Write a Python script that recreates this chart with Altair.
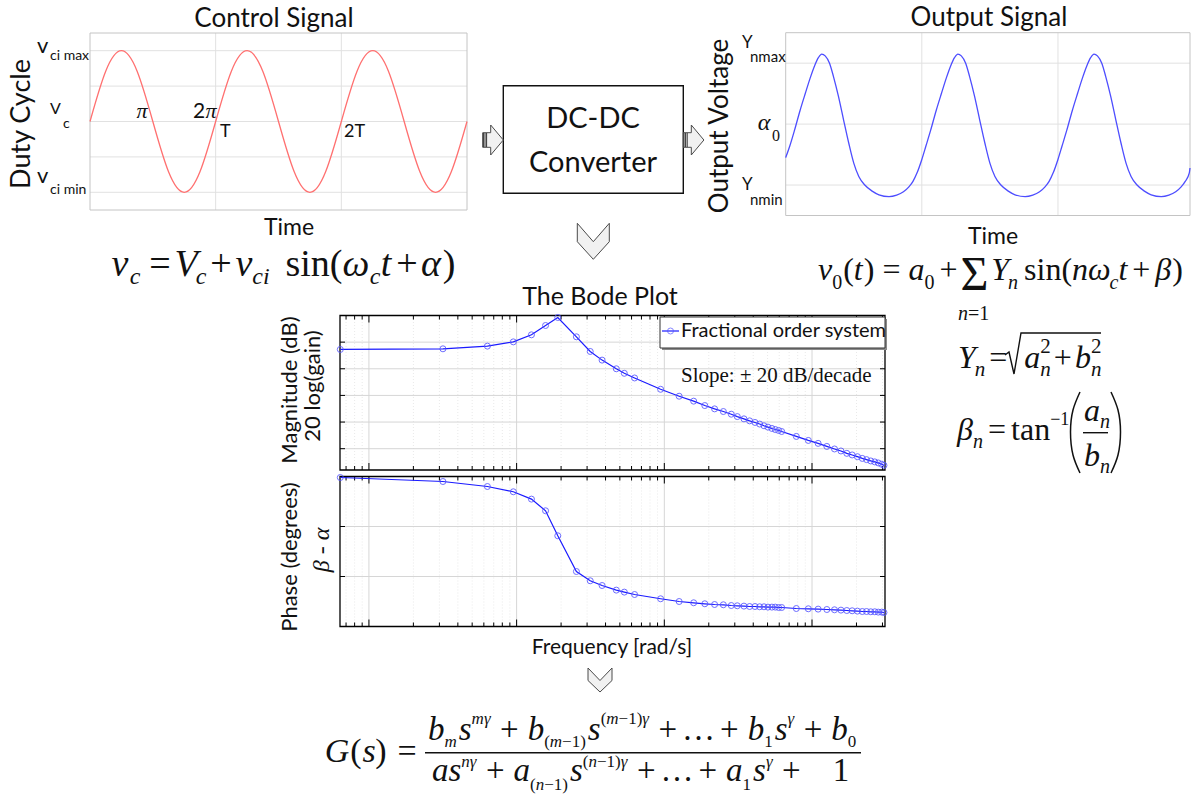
import altair as alt
import pandas as pd

W, H = 1191, 799
SANS = "Lato"
SERIF = "Liberation Serif"
INK = "#111111"

# ---------------- data ----------------
# Control signal: duty-cycle level at each eighth of a period
ctl_phase = [0.0, 0.125, 0.25, 0.375, 0.5, 0.625, 0.75, 0.875]
ctl_level = [0.0, 0.71, 1.0, 0.71, 0.0, -0.71, -1.0, -0.71]
ctl_cycles = [0, 1, 2]
ctl_last = [3.0, 0.0]

# Output signal: level around each peak (offset from the peak, in periods)
out_offset = [-0.45, -0.40, -0.36, -0.33, -0.30, -0.265, -0.235, -0.20, -0.16, -0.12, -0.086, -0.054, -0.025,
              0.0, 0.025, 0.057, 0.086, 0.123, 0.160, 0.198, 0.235, 0.272, 0.316, 0.370, 0.420, 0.494]
out_level = [-1.165, -1.11, -1.03, -0.94, -0.80, -0.58, -0.36, -0.10, 0.22, 0.51, 0.75, 0.95, 1.09,
             1.15, 1.12, 1.0, 0.78, 0.45, 0.07, -0.31, -0.64, -0.86, -1.0, -1.10, -1.16, -1.19]
out_peaks = [0.265, 1.265, 2.265, 3.265]
out_first = [0.0, -0.55]
out_last = [2.97, -0.72]

# Bode plot of the fractional order system
bode_freq = [0.064, 0.317, 0.634, 0.95, 1.26, 1.57, 1.90, 2.54, 3.15, 3.79, 4.73, 5.36, 6.29, 9.44,
             12.6, 15.8, 18.8, 21.9, 25.1, 28.4, 31.2, 34.6, 37.8, 41.1, 44.2, 47.3, 50.3, 53.5, 56.4,
             59.4, 62.3, 78.3, 94.4, 110, 126, 142, 157, 172, 187, 203, 219, 234, 250, 266, 281, 296, 307]
bode_mag = [-5.5, -5.0, -3.0, 0.2, 5.5, 12.5, 18.5, 4.0, -7.0, -13.5, -20.0, -23.4, -26.9, -35.4,
            -40.6, -44.3, -47.6, -50.1, -52.1, -54.1, -55.9, -57.6, -59.1, -60.3, -61.5, -62.8, -63.8,
            -64.8, -65.6, -66.3, -67.1, -70.8, -73.8, -76.0, -78.3, -80.2, -81.7, -83.5, -84.7, -86.0,
            -87.3, -88.2, -89.2, -89.9, -90.7, -91.7, -92.5]
bode_phase = [-1.8, -9.0, -18.0, -27.5, -40.7, -61.7, -106.7, -171.0, -187.7, -196.2, -204.5, -208.1,
              -212.4, -220.1, -225.0, -227.3, -229.1, -230.4, -230.9, -232.2, -232.7, -233.3, -234.0,
              -234.0, -234.5, -234.5, -235.1, -235.1, -235.1, -235.8, -235.8, -237.6, -238.1, -238.7,
              -239.4, -239.9, -240.5, -241.2, -241.7, -242.3, -243.0, -243.0, -243.5, -243.5, -244.1,
              -244.1, -244.8]

# ---------------- helpers ----------------
def scale(domain, rng, kind="linear"):
    return alt.Scale(type=kind, domain=domain, range=rng, nice=False, zero=False)


def frame(xd, yd, xs, ys, color, width):
    df = pd.DataFrame({"x0": [xd[0]], "x1": [xd[1]], "y0": [yd[0]], "y1": [yd[1]]})
    return alt.Chart(df).mark_rect(stroke=color, strokeWidth=width, fillOpacity=0).encode(
        x=alt.X("x0:Q", scale=xs, axis=None), x2="x1:Q",
        y=alt.Y("y0:Q", scale=ys, axis=None), y2="y1:Q")


def hgrid(values, xd, xs, ys, color, dash=None, width=1):
    df = pd.DataFrame({"v": values, "a": xd[0], "b": xd[1]})
    kw = dict(strokeDash=dash) if dash else {}
    return alt.Chart(df).mark_rule(color=color, strokeWidth=width, **kw).encode(
        y=alt.Y("v:Q", scale=ys, axis=None),
        x=alt.X("a:Q", scale=xs, axis=None), x2="b:Q")


def vgrid(values, yd, xs, ys, color, dash=None, width=1):
    df = pd.DataFrame({"v": values, "a": yd[0], "b": yd[1]})
    kw = dict(strokeDash=dash) if dash else {}
    return alt.Chart(df).mark_rule(color=color, strokeWidth=width, **kw).encode(
        x=alt.X("v:Q", scale=xs, axis=None),
        y=alt.Y("a:Q", scale=ys, axis=None), y2="b:Q")


def xticks(values, edge, xs, ys, length):
    df = pd.DataFrame({"v": values, "e": edge})
    return alt.Chart(df).mark_rule(color="black", strokeWidth=1, y2Offset=length).encode(
        x=alt.X("v:Q", scale=xs, axis=None),
        y=alt.Y("e:Q", scale=ys, axis=None), y2="e:Q")


def yticks(values, edge, xs, ys, length):
    df = pd.DataFrame({"v": values, "e": edge})
    return alt.Chart(df).mark_rule(color="black", strokeWidth=1, x2Offset=length).encode(
        y=alt.Y("v:Q", scale=ys, axis=None),
        x=alt.X("e:Q", scale=xs, axis=None), x2="e:Q")


def ident(field):
    return dict(field=field, type="quantitative", scale=None, axis=None)


layers = []

# ---------------- control signal ----------------
CXD, CYD = [0, 3], [-1.25, 1.25]
CX, CY = scale(CXD, [90, 467]), scale(CYD, [210, 33])
ctl_rows = [(c + p, l) for c in ctl_cycles for p, l in zip(ctl_phase, ctl_level)] + [tuple(ctl_last)]
ctl_df = pd.DataFrame(ctl_rows, columns=["t", "v"])
layers += [
    hgrid([-1, -0.5, 0, 0.5, 1], CXD, CX, CY, "#e1e1e1"),
    vgrid([1, 2], CYD, CX, CY, "#e1e1e1"),
    frame(CXD, CYD, CX, CY, "#c4c4c4", 1),
    alt.Chart(ctl_df).mark_line(interpolate="natural", color="#ff7070", strokeWidth=1.3).encode(
        x=alt.X("t:Q", scale=CX, axis=None), y=alt.Y("v:Q", scale=CY, axis=None)),
]

# ---------------- output signal ----------------
OXD, OYD = [0, 2.97], [-1.5, 1.5]
OX, OY = scale(OXD, [785.7, 1190]), scale(OYD, [215.5, 32.7])
out_rows = [tuple(out_first)]
for pk in out_peaks:
    for o, l in zip(out_offset, out_level):
        if 0.01 < pk + o < out_last[0] - 0.004:
            out_rows.append((pk + o, l))
out_rows.append(tuple(out_last))
out_df = pd.DataFrame(sorted(out_rows), columns=["t", "v"])
layers += [
    hgrid([-1, 0, 1], OXD, OX, OY, "#e1e1e1"),
    vgrid([1, 2], OYD, OX, OY, "#e1e1e1"),
    frame(OXD, OYD, OX, OY, "#c4c4c4", 1),
    alt.Chart(out_df).mark_line(interpolate="monotone", color="#4d4dff", strokeWidth=1.3).encode(
        x=alt.X("t:Q", scale=OX, axis=None), y=alt.Y("v:Q", scale=OY, axis=None)),
]

# ---------------- Bode plot ----------------
BXD = [0.0637, 312]
BX = scale(BXD, [340, 885], "log")
MYD, PYD = [-96, 20], [-270, 0]
MY = scale(MYD, [470, 315.5])
PY = scale(PYD, [626.5, 476.5])
decades = [0.1, 1, 10, 100]
minors = [m * d for d in [0.01, 0.1, 1, 10, 100] for m in range(2, 10) if BXD[0] < m * d < BXD[1]]
bode_df = pd.DataFrame({"f": bode_freq, "mag": bode_mag, "ph": bode_phase})

for ys, yd, grid in [(MY, MYD, [0, -20, -40, -60, -80]), (PY, PYD, [-90, -180])]:
    layers += [
        vgrid(minors, yd, BX, ys, "#e9e9e9", dash=[1, 2]),
        vgrid(decades, yd, BX, ys, "#d6d6d6"),
        hgrid(grid, BXD, BX, ys, "#d6d6d6"),
        frame(BXD, yd, BX, ys, "black", 1.3),
        xticks(decades, yd[1], BX, ys, 7),
        xticks(minors, yd[1], BX, ys, 4),
        xticks(decades, yd[0], BX, ys, -7),
        xticks(minors, yd[0], BX, ys, -4),
        yticks(grid, BXD[0], BX, ys, 5),
        yticks(grid, BXD[1], BX, ys, -5),
    ]

for field, ys in [("mag", MY), ("ph", PY)]:
    enc = dict(x=alt.X("f:Q", scale=BX, axis=None), y=alt.Y(f"{field}:Q", scale=ys, axis=None))
    layers += [
        alt.Chart(bode_df).mark_line(color="#1a1aff", strokeWidth=1.2).encode(**enc),
        alt.Chart(bode_df).mark_point(shape="circle", size=36, filled=False, color="#5555ff",
                                      strokeWidth=1, opacity=0.85).encode(**enc),
    ]

# legend box of the magnitude panel (drop shadow, then the box)
boxes = pd.DataFrame({"x0": [662, 660], "x1": [887, 885], "y0": [319, 317], "y1": [350, 348]})
layers += [
    alt.Chart(boxes.iloc[[0]]).mark_rect(fill="#8a8a8a").encode(
        x=ident("x0"), x2="x1:Q", y=ident("y0"), y2="y1:Q"),
    alt.Chart(boxes.iloc[[1]]).mark_rect(fill="white", stroke="#333333", strokeWidth=1).encode(
        x=ident("x0"), x2="x1:Q", y=ident("y0"), y2="y1:Q"),
]
leg_line = pd.DataFrame({"x": [662, 679], "y": [331, 331]})
leg_dot = pd.DataFrame({"x": [670.5], "y": [331]})
layers += [
    alt.Chart(leg_line).mark_line(color="#1a1aff", strokeWidth=1.2).encode(x=ident("x"), y=ident("y")),
    alt.Chart(leg_dot).mark_point(shape="circle", size=36, filled=False, color="#5555ff",
                                  strokeWidth=1).encode(x=ident("x"), y=ident("y")),
]

# ---------------- block diagram ----------------
blk = pd.DataFrame({"x0": [503.3], "x1": [683.3], "y0": [85.7], "y1": [193.3]})
layers.append(alt.Chart(blk).mark_rect(fill="white", stroke=INK, strokeWidth=1.4).encode(
    x=ident("x0"), x2="x1:Q", y=ident("y0"), y2="y1:Q"))

ARROW = "M -10.3 -7.3 L -2.3 -7.3 L -2.3 -15 L 10.3 0 L -2.3 15 L -2.3 7.3 L -10.3 7.3 Z"
STRIPES = "M -9.6 -7 L -9.6 7 M -8 -7 L -8 7 M -6.4 -7 L -6.4 7"
CHEV_BIG = "M -16 -18 L 0 0.4 L 16 -18 L 16 0.4 L 0 18 L -16 0.4 Z"
CHEV_SMALL = "M -12 -12 L 0 0.5 L 12 -12 L 12 0.5 L 0 12 L -12 0.5 Z"
shapes = [
    (ARROW, 493.0, 140.0, True), (STRIPES, 493.0, 140.0, False),
    (ARROW, 693.6, 140.0, True), (STRIPES, 693.6, 140.0, False),
    (CHEV_BIG, 593.3, 241.3, True), (CHEV_SMALL, 600.0, 680.0, True),
]
for path, sx, sy, filled in shapes:
    df = pd.DataFrame({"x": [sx], "y": [sy]})
    kw = dict(fill="#f1f1f1", stroke="#4a4a4a") if filled else dict(stroke="#333333")
    layers.append(alt.Chart(df).mark_point(shape=path, size=4, filled=filled, strokeWidth=1,
                                           opacity=1, **kw).encode(x=ident("x"), y=ident("y")))

# ---------------- text ----------------
labels = []


def lab(t, x, y, fs, font=SANS, style="normal", align="left", base="alphabetic", ang=0, color=INK):
    labels.append(dict(t=t, x=x, y=y, fs=fs, ang=ang, font=font, style=style, align=align,
                       base=base, color=color))


def eq(t, cx, base, fs, italic=False):
    lab(t, cx, base, fs, font=SERIF, style="italic" if italic else "normal", align="center")


# advance widths (em) of the serif face, upright and italic
UPW = {"(": 0.333, ")": 0.333, "−": 0.564, "+": 0.564, "=": 0.564, "0": 0.5, "1": 0.5, "2": 0.5,
       "s": 0.389, "i": 0.278, "n": 0.5, "t": 0.278, "a": 0.444, "…": 1.0, "Σ": 0.6}
ITW = {"a": 0.5, "b": 0.5, "c": 0.444, "m": 0.722, "n": 0.5, "s": 0.389, "t": 0.278, "v": 0.444,
       "G": 0.722, "V": 0.611, "Y": 0.556, "α": 0.53, "β": 0.5, "γ": 0.42, "ω": 0.67, "π": 0.5}


def typeset(x0, base, parts):
    """Lay out runs left to right: (text, italic, size, dy, gap_before[, advance])."""
    x = x0
    for p in parts:
        t, it, fs, dy, gap = p[:5]
        adv = p[5] if len(p) > 5 else True
        x += gap
        lab(t, x, base + dy, fs, font=SERIF, style="italic" if it else "normal")
        if adv:
            x += sum((ITW if it else UPW).get(c, 0.5) for c in t) * fs
    return x


# panel titles and axis titles
lab("Control Signal", 274, 26.5, 26, align="center")
lab("Duty Cycle", 22, 124, 27, align="center", base="middle", ang=270)
lab("Time", 289, 235, 23, align="center")
lab("Output Signal", 989, 25.5, 26, align="center")
lab("Output Voltage", 720, 126, 26, align="center", base="middle", ang=270)
lab("Time", 993, 244, 23, align="center")
lab("DC-DC", 593, 128, 29, align="center")
lab("Converter", 593, 172, 29, align="center")

# control-signal level labels
lab("v", 37, 53, 22)
lab("ci max", 50, 60, 14)
lab("V", 50, 114, 16)
lab("c", 63, 128, 14)
lab("v", 37, 183, 22)
lab("ci min", 50, 194, 14)
lab("2", 193, 118, 21)
lab("T", 220, 137, 18)
lab("2T", 344, 137, 18)
eq("π", 142, 118, 22, True)
eq("π", 211, 118, 22, True)

# output-signal level labels
lab("Y", 742, 48, 17)
lab("nmax", 750, 62, 15)
lab("Y", 742, 190, 17)
lab("nmin", 750, 205, 15)
eq("α", 764, 130, 24, True)
eq("0", 776, 141, 16)

# Bode labels
lab("The Bode Plot", 600, 305, 25, align="center")
lab("Magnitude (dB)", 290, 390, 22, align="center", base="middle", ang=270)
lab("20 log(gain)", 313, 386, 22, align="center", base="middle", ang=270)
lab("Phase (degrees)", 290, 557, 22, align="center", base="middle", ang=270)
lab("β - α", 322, 550, 24, font=SERIF, style="italic", align="center", base="middle", ang=270)
lab("Frequency [rad/s]", 612, 654, 21, align="center")
lab("Fractional order system", 681, 331, 20, base="middle")
lab("Slope: ± 20 dB/decade", 681, 382, 21, font=SERIF)

# v_c = V_c + v_ci sin(w_c t + alpha)
B1, S1 = 276, 284
for t, cx, it in [("v", 120, True), ("=", 160, False), ("V", 186, True), ("+", 221, False),
                  ("v", 244, True), ("sin(", 314, False), ("ω", 356, True), ("t", 386, True),
                  ("+", 407, False), ("α", 431, True), (")", 449, False)]:
    eq(t, cx, B1, 38, it)
for t, cx in [("c", 135), ("c", 201), ("ci", 261), ("c", 375)]:
    eq(t, cx, S1, 24, True)

# v_0(t) = a_0 + sum Y_n sin(n w_c t + beta)
typeset(818, 280, [
    ("v", True, 32, 0, 0), ("0", False, 20, 9, 0), ("(", False, 32, 0, 1), ("t", True, 32, 0, 0),
    (")", False, 32, 0, 1), ("=", False, 32, 0, 8), ("a", True, 32, 0, 8), ("0", False, 20, 9, 0),
    ("+", False, 32, 0, 5), ("Σ", False, 48, 10, 3), ("Y", True, 32, 0, 2), ("n", True, 20, 9, -1),
    ("sin(", False, 32, 0, 6), ("n", True, 32, 0, 0), ("ω", True, 32, 0, 0), ("c", True, 20, 9, 0),
    ("t", True, 32, 0, 0), ("+", False, 32, 0, 5), ("β", True, 32, 0, 5), (")", False, 32, 0, 1),
])
typeset(958, 320, [("n", True, 20, 0, 0), ("=1", False, 20, 0, 0)])

# Y_n = sqrt(a_n^2 + b_n^2)
typeset(958, 368, [
    ("Y", True, 32, 0, 0), ("n", True, 21, 8, -1), ("=", False, 32, 0, 4),
    ("a", True, 32, 0, 17), ("2", False, 21, -15, 0, False), ("n", True, 21, 8, 0),
    ("+", False, 32, 0, 3), ("b", True, 32, 0, 3), ("2", False, 21, -15, 0, False), ("n", True, 21, 8, 0),
])

# beta_n = tan^-1(a_n / b_n)
typeset(957, 440, [
    ("β", True, 32, 0, 0), ("n", True, 20, 8, 0), ("=", False, 32, 0, 5),
    ("tan", False, 32, 0, 5), ("−1", False, 18, -15, 0),
])
typeset(1084, 421, [("a", True, 32, 0, 0), ("n", True, 20, 7, 0)])
typeset(1084, 466, [("b", True, 32, 0, 0), ("n", True, 20, 7, 0)])

# G(s) = numerator / denominator
for t, cx, it in [("G", 337, True), ("(", 356, False), ("s", 369, True), (")", 381, False), ("=", 407, False)]:
    eq(t, cx, 762, 34, it)
typeset(428, 740, [
    ("b", True, 33, 0, 0), ("m", True, 17, 7, 0), ("s", True, 33, 0, 2), ("mγ", True, 17, -16, 0),
    ("+", False, 33, 0, 9), ("b", True, 33, 0, 9), ("(", False, 17, 7, 0), ("m", True, 17, 7, 0),
    ("−1)", False, 17, 7, 0), ("s", True, 33, 0, 2), ("(", False, 17, -16, 0), ("m", True, 17, -16, 0),
    ("−1)", False, 17, -16, 0), ("γ", True, 17, -16, 0), ("+", False, 33, 0, 9), ("…", False, 33, 0, 5),
    ("+", False, 33, 0, 5), ("b", True, 33, 0, 9), ("1", False, 17, 7, 0), ("s", True, 33, 0, 2),
    ("γ", True, 17, -16, 0), ("+", False, 33, 0, 9), ("b", True, 33, 0, 9), ("0", False, 17, 7, 0),
])
typeset(432, 781, [
    ("a", True, 33, 0, 0), ("s", True, 33, 0, 0), ("nγ", True, 17, -14, 0),
    ("+", False, 33, 0, 9), ("a", True, 33, 0, 9), ("(", False, 17, 9, 0), ("n", True, 17, 9, 0),
    ("−1)", False, 17, 9, 0), ("s", True, 33, 0, 2), ("(", False, 17, -14, 0), ("n", True, 17, -14, 0),
    ("−1)", False, 17, -14, 0), ("γ", True, 17, -14, 0), ("+", False, 33, 0, 9), ("…", False, 33, 0, 5),
    ("+", False, 33, 0, 5), ("a", True, 33, 0, 9), ("1", False, 17, 9, 0), ("s", True, 33, 0, 2),
    ("γ", True, 17, -14, 0), ("+", False, 33, 0, 9), ("1", False, 33, 0, 32),
])

lab_df = pd.DataFrame(labels)
for key, grp in lab_df.groupby(["font", "style", "align", "base", "color"]):
    font, style, align, base, color = key
    layers.append(alt.Chart(grp[["t", "x", "y", "fs", "ang"]]).mark_text(
        font=font, fontStyle=style, align=align, baseline=base, color=color).encode(
        x=ident("x"), y=ident("y"), text="t:N",
        size=alt.Size("fs:Q", scale=None, legend=None),
        angle=alt.Angle("ang:Q", scale=None, legend=None)))

# fraction bars, the radical and the large parentheses
bars = pd.DataFrame({"x0": [425, 1083], "x1": [861, 1108], "y": [752.7, 432.7]})
layers.append(alt.Chart(bars).mark_rule(color=INK, strokeWidth=1.4).encode(
    x=ident("x0"), x2="x1:Q", y=ident("y")))
strokes = pd.DataFrame({
    "g": ["rad"] * 5 + ["lp"] * 5 + ["rp"] * 5,
    "i": list(range(5)) * 3,
    "x": [1005, 1009, 1014, 1021, 1101, 1080, 1073, 1070.5, 1073, 1080, 1111, 1118, 1120.5, 1118, 1111],
    "y": [355, 352, 374, 333, 333, 392, 410, 432, 455, 473, 392, 410, 432, 455, 473],
})
layers.append(alt.Chart(strokes[strokes.g == "rad"]).mark_line(color=INK, strokeWidth=1.4).encode(
    x=ident("x"), y=ident("y"), order="i:Q"))
layers.append(alt.Chart(strokes[strokes.g != "rad"]).mark_line(
    color=INK, strokeWidth=1.5, interpolate="natural").encode(
    x=ident("x"), y=ident("y"), detail="g:N", order="i:Q"))

chart = alt.layer(*layers).properties(
    width=W, height=H, padding=0, background="white",
    autosize=alt.AutoSizeParams(type="none"),
).resolve_scale(x="independent", y="independent").configure_view(stroke=None)

chart.save("out.html", embed_options={"renderer": "svg", "actions": False})
